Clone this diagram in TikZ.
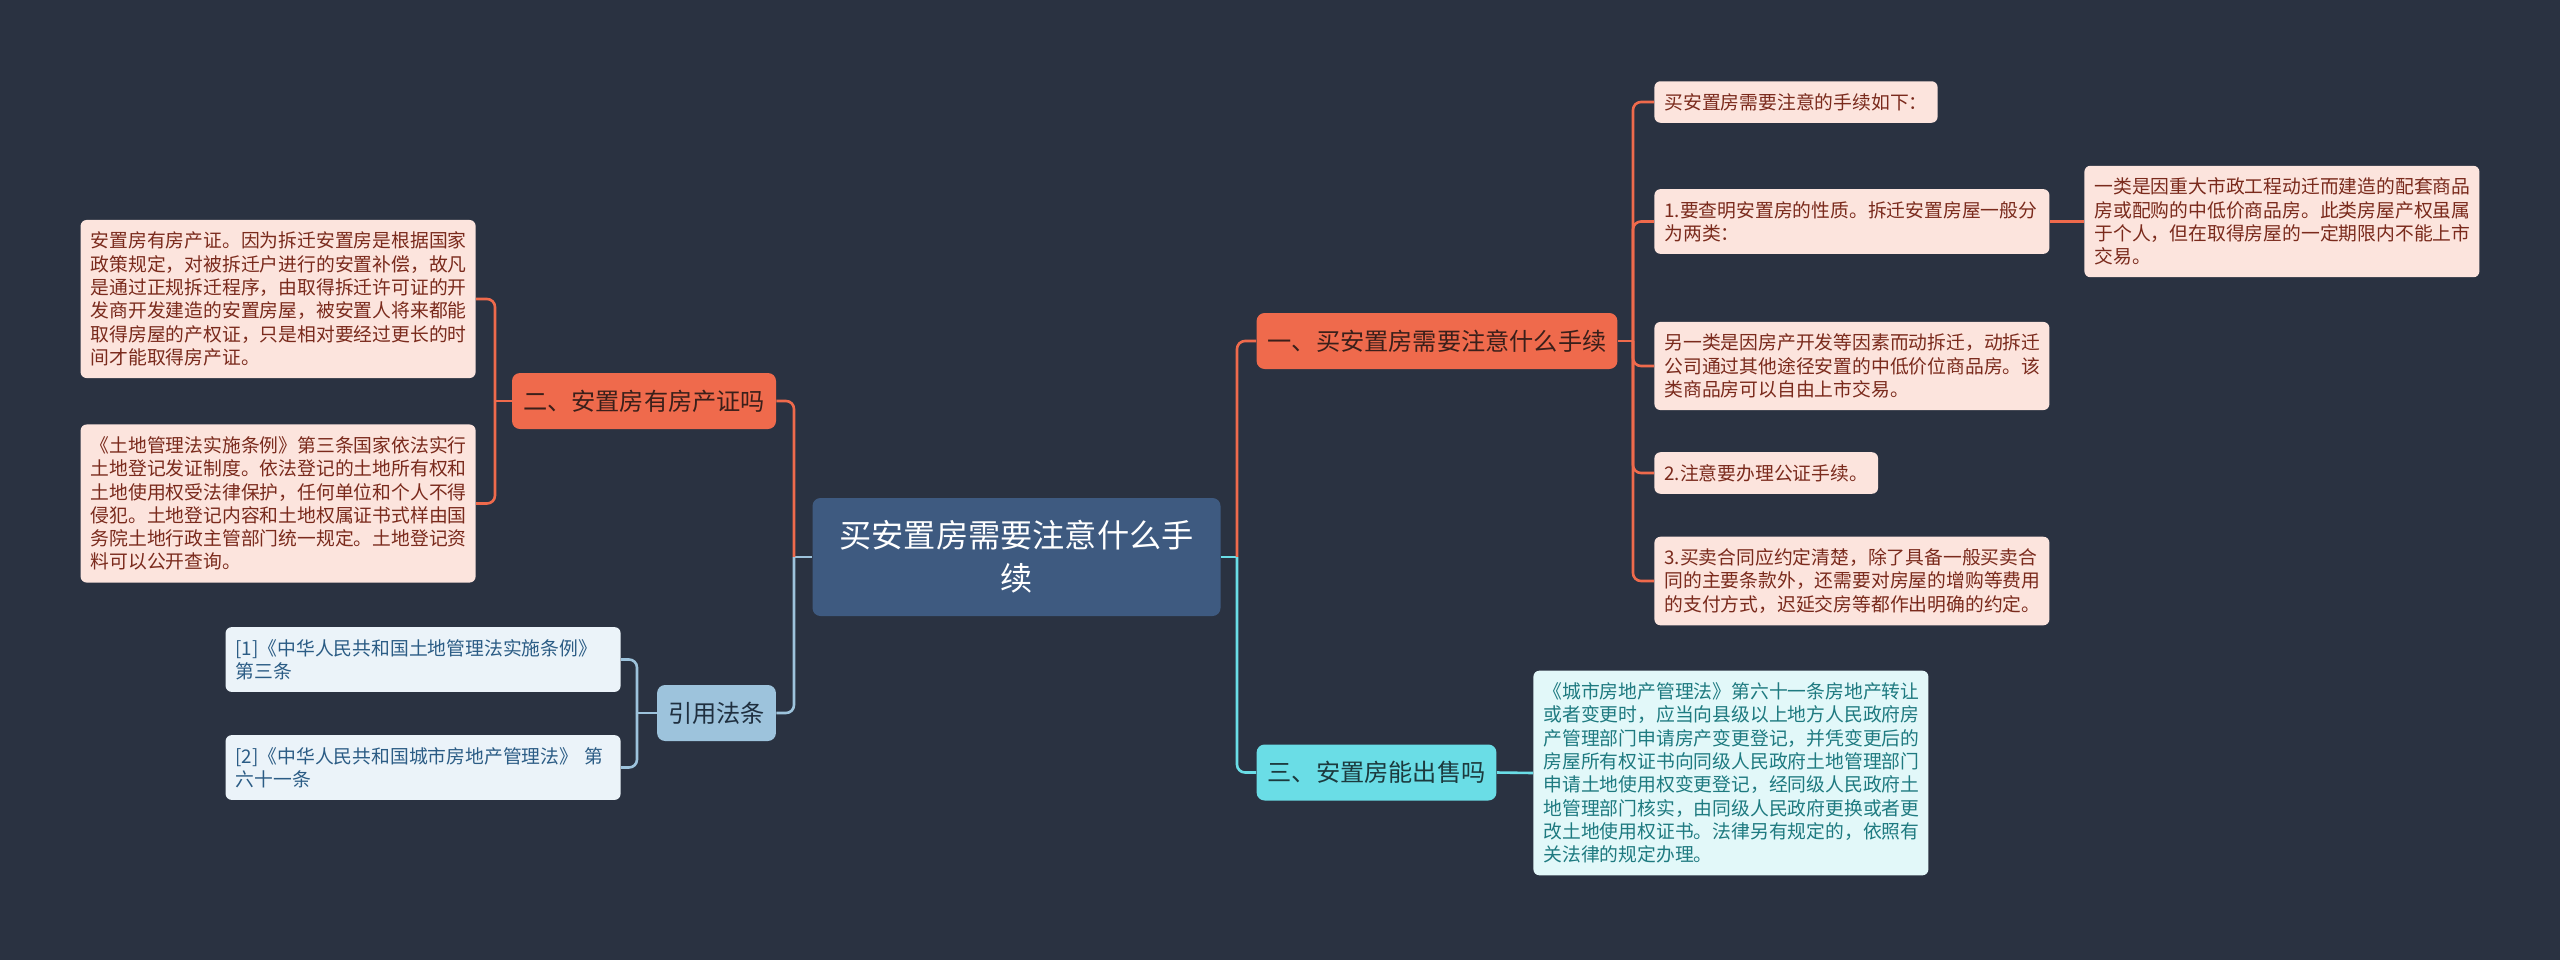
\documentclass[tikz,border=0pt]{standalone}
\usepackage{fontspec}
\setmainfont{Noto Sans CJK SC}
\usepackage{xcolor}
\definecolor{bgnavy}{HTML}{2A3241}
\definecolor{rootblue}{HTML}{3E5A80}
\definecolor{coral}{HTML}{EF6A4C}
\definecolor{coralleaf}{HTML}{FCE4DD}
\definecolor{coraltext}{HTML}{7A2A1C}
\definecolor{coraldark}{HTML}{3A1F1A}
\definecolor{sky}{HTML}{9DC3DC}
\definecolor{skyleaf}{HTML}{EBF3F9}
\definecolor{skytext}{HTML}{2B5C85}
\definecolor{skydark}{HTML}{1F2F3F}
\definecolor{aqua}{HTML}{6ADDE6}
\definecolor{aqualeaf}{HTML}{E2F8F9}
\definecolor{aquatext}{HTML}{1E7A80}
\definecolor{aquadark}{HTML}{1C3A3E}
\newcommand\rootfont{\fontsize{16.1}{21.5}\selectfont}
\newcommand\branchfont{\fontsize{12.1}{14.5}\selectfont}
\newcommand\leaffont{\fontsize{9.4}{11.65}\selectfont}
\tikzset{
  rootnode/.style={fill=rootblue, text=white, rounded corners=4pt, align=center,
    minimum width=204pt, minimum height=59pt, font=\rootfont},
  topic/.style={rounded corners=4pt, minimum height=28pt, inner xsep=5.5pt, font=\branchfont},
  leaf/.style={rounded corners=3pt, align=left, inner xsep=5pt, inner ysep=6pt, font=\leaffont},
  wideleaf/.style={leaf, text width=187.5pt},
  link/.style={line width=1.3pt, rounded corners=4pt},
}

\begin{document}
\begin{tikzpicture}[x=0.5pt, y=-0.5pt]
      \fill[bgnavy] (0,0) rectangle (2560,960);
      \useasboundingbox (0,0) rectangle (2560,960);

      \node[rootnode] (root) at (1016.5,557) {买安置房需要注意什么手\\续};

      \node[topic, fill=coral, text=coraldark] (buy) at (1437,341)
        {一、买安置房需要注意什么手续};
      \node[topic, fill=coral, text=coraldark] (cert) at (644,401)
        {二、安置房有房产证吗};
      \node[topic, fill=sky, text=skydark] (cite) at (716.5,713) {引用法条};
      \node[topic, fill=aqua, text=aquadark] (sell) at (1376.5,772.5)
        {三、安置房能出售吗};

      \node[leaf, fill=coralleaf, text=coraltext, anchor=west] (buy1) at (1654,102)
        {买安置房需要注意的手续如下：};
      \node[wideleaf, fill=coralleaf, text=coraltext, anchor=west] (buy2) at (1654,221.5)
        {1.要查明安置房的性质。拆迁安置房屋一般分\\为两类：};
      \node[wideleaf, fill=coralleaf, text=coraltext, anchor=west] (buy2a) at (2084,221.5)
        {一类是因重大市政工程动迁而建造的配套商品\\房或配购的中低价商品房。此类房屋产权虽属\\于个人，但在取得房屋的一定期限内不能上市\\交易。};
      \node[wideleaf, fill=coralleaf, text=coraltext, anchor=west] (buy3) at (1654,366)
        {另一类是因房产开发等因素而动拆迁，动拆迁\\公司通过其他途径安置的中低价位商品房。该\\类商品房可以自由上市交易。};
      \node[leaf, fill=coralleaf, text=coraltext, anchor=west] (buy4) at (1654,473)
        {2.注意要办理公证手续。};
      \node[wideleaf, fill=coralleaf, text=coraltext, anchor=west] (buy5) at (1654,581)
        {3.买卖合同应约定清楚，除了具备一般买卖合\\同的主要条款外，还需要对房屋的增购等费用\\的支付方式，迟延交房等都作出明确的约定。};

      \node[wideleaf, fill=coralleaf, text=coraltext, anchor=east] (cert1) at (476,299)
        {安置房有房产证。因为拆迁安置房是根据国家\\政策规定，对被拆迁户进行的安置补偿，故凡\\是通过正规拆迁程序，由取得拆迁许可证的开\\发商开发建造的安置房屋，被安置人将来都能\\取得房屋的产权证，只是相对要经过更长的时\\间才能取得房产证。};
      \node[wideleaf, fill=coralleaf, text=coraltext, anchor=east] (cert2) at (476,503.5)
        {《土地管理法实施条例》第三条国家依法实行\\土地登记发证制度。依法登记的土地所有权和\\土地使用权受法律保护，任何单位和个人不得\\侵犯。土地登记内容和土地权属证书式样由国\\务院土地行政主管部门统一规定。土地登记资\\料可以公开查询。};

      \node[wideleaf, fill=skyleaf, text=skytext, anchor=east] (cite1) at (621,659.5)
        {[1]《中华人民共和国土地管理法实施条例》\\第三条};
      \node[wideleaf, fill=skyleaf, text=skytext, anchor=east] (cite2) at (621,767.5)
        {[2]《中华人民共和国城市房地产管理法》 第\\六十一条};

      \node[wideleaf, fill=aqualeaf, text=aquatext, anchor=west] (sell1) at (1533,773)
        {《城市房地产管理法》第六十一条房地产转让\\或者变更时，应当向县级以上地方人民政府房\\产管理部门申请房产变更登记，并凭变更后的\\房屋所有权证书向同级人民政府土地管理部门\\申请土地使用权变更登记，经同级人民政府土\\地管理部门核实，由同级人民政府更换或者更\\改土地使用权证书。法律另有规定的，依照有\\关法律的规定办理。};

      \coordinate (rspine) at (1237,557);
      \coordinate (lspine) at (794,557);
      \coordinate (buyspine) at (1633,341);
      \coordinate (certspine) at (495,401);
      \coordinate (citespine) at (637,713);

      \draw[link, aqua] (root.east) -- (rspine);
      \draw[link, coral] (rspine) |- (buy.west);
      \draw[link, aqua] (rspine) |- (sell.west);
      \draw[link, sky] (root.west) -- (lspine);
      \draw[link, coral] (lspine) |- (cert.east);
      \draw[link, sky] (lspine) |- (cite.east);

      \draw[link, coral] (buy.east) -- (buyspine);
      \foreach \n in {buy1,buy2,buy3,buy4,buy5}
        \draw[link, coral] (buyspine) |- (\n.west);
      \draw[link, coral] (buy2.east) -- (buy2a.west);

      \draw[link, coral] (cert.west) -- (certspine);
      \foreach \n in {cert1,cert2}
        \draw[link, coral] (certspine) |- (\n.east);

      \draw[link, sky] (cite.west) -- (citespine);
      \foreach \n in {cite1,cite2}
        \draw[link, sky] (citespine) |- (\n.east);

      \draw[link, aqua] (sell.east) -- (sell1.west);
    \end{tikzpicture}
\end{document}
